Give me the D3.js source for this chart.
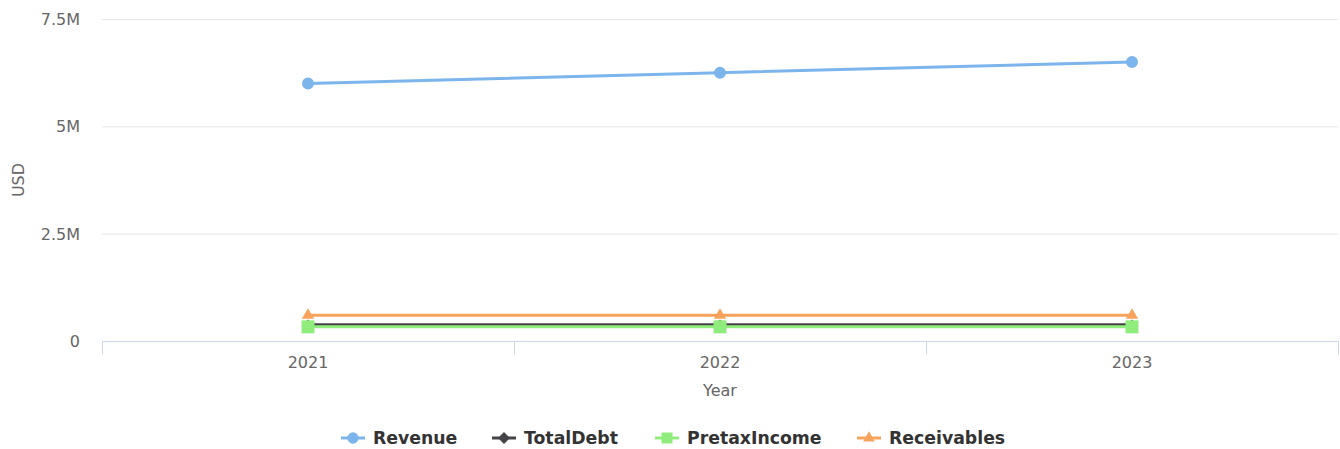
<!DOCTYPE html>
<html lang="en">
<head>
  <meta charset="UTF-8">
  <title>Financials by Year</title>
  <script src="https://d3js.org/d3.v7.min.js"></script>
  <style>
    body {
      margin: 0;
      background: #fff;
      font-family: "DejaVu Sans", sans-serif;
    }
    .tick-label { fill: #666; font-size: 16px; }
    .axis-title { fill: #666; font-size: 16px; }
    .legend-text { fill: #333; font-size: 17.3px; font-weight: bold; }
  </style>
</head>
<body>
  <svg id="chart" width="1340" height="449"></svg>
  <script>
    const years = ["2021", "2022", "2023"];
    const revenue = [6.0e6, 6.25e6, 6.5e6];
    const totalDebt = [0.38e6, 0.38e6, 0.38e6];
    const pretaxIncome = [0.33e6, 0.33e6, 0.33e6];
    const receivables = [0.6e6, 0.6e6, 0.6e6];
    const yTicks = [0, 2.5e6, 5e6, 7.5e6];
    const yTickLabels = ["0", "2.5M", "5M", "7.5M"];

    const series = [
      { name: "Revenue", values: revenue, color: "#7cb5ec", symbol: d3.symbolCircle, size: 113, legendSize: 100 },
      { name: "TotalDebt", values: totalDebt, color: "#434348", symbol: d3.symbolDiamond2, size: 70, legendSize: 90 },
      { name: "PretaxIncome", values: pretaxIncome, color: "#90ed7d", symbol: d3.symbolSquare, size: 169, legendSize: 121 },
      { name: "Receivables", values: receivables, color: "#f7a35c", symbol: d3.symbolTriangle, size: 65, legendSize: 60 }
    ];

    const margin = { left: 102, right: 2, top: 19, bottom: 108 };
    const width = 1340, height = 449;
    const svg = d3.select("#chart");

    const x = d3.scaleBand().domain(years).range([margin.left, width - margin.right]);
    const y = d3.scaleLinear().domain([0, 7.5e6]).range([height - margin.bottom, margin.top]);

    // grid lines
    svg.append("g")
      .selectAll("line")
      .data(yTicks.slice(1))
      .join("line")
      .attr("x1", margin.left).attr("x2", width - margin.right)
      .attr("y1", d => y(d) + 0.5).attr("y2", d => y(d) + 0.5)
      .attr("stroke", "#e6e6e6");

    // y labels
    svg.append("g")
      .selectAll("text")
      .data(yTicks)
      .join("text")
      .attr("class", "tick-label")
      .attr("x", 80)
      .attr("y", d => y(d) + 6)
      .attr("text-anchor", "end")
      .text((d, i) => yTickLabels[i]);

    svg.append("text")
      .attr("class", "axis-title")
      .attr("transform", `translate(24,${(y(0) + y(7.5e6)) / 2}) rotate(-90)`)
      .attr("text-anchor", "middle")
      .text("USD");

    // x axis
    const x0 = y(0) + 0.5;
    svg.append("line")
      .attr("x1", margin.left).attr("x2", width - margin.right)
      .attr("y1", x0).attr("y2", x0)
      .attr("stroke", "#ccd6eb");

    const bounds = years.map(d => x(d)).concat([x(years[years.length - 1]) + x.bandwidth()]);
    svg.append("g")
      .selectAll("line")
      .data(bounds)
      .join("line")
      .attr("x1", d => Math.round(d) + 0.5).attr("x2", d => Math.round(d) + 0.5)
      .attr("y1", x0).attr("y2", x0 + 13)
      .attr("stroke", "#ccd6eb");

    svg.append("g")
      .selectAll("text")
      .data(years)
      .join("text")
      .attr("class", "tick-label")
      .attr("x", d => x(d) + x.bandwidth() / 2)
      .attr("y", 368)
      .attr("text-anchor", "middle")
      .text(d => d);

    svg.append("text")
      .attr("class", "axis-title")
      .attr("x", (margin.left + width - margin.right) / 2)
      .attr("y", 396)
      .attr("text-anchor", "middle")
      .text("Year");

    // series
    const line = d3.line()
      .x((d, i) => x(years[i]) + x.bandwidth() / 2)
      .y(d => y(d));

    series.forEach(s => {
      const g = svg.append("g");
      g.append("path")
        .attr("d", line(s.values))
        .attr("fill", "none")
        .attr("stroke", s.color)
        .attr("stroke-width", 3);
      g.selectAll("path.marker")
        .data(s.values)
        .join("path")
        .attr("class", "marker")
        .attr("transform", (d, i) => `translate(${x(years[i]) + x.bandwidth() / 2},${y(d)})`)
        .attr("d", d3.symbol(s.symbol, s.size))
        .attr("fill", s.color);
    });

    // legend
    const legendX = [341, 492, 655, 857];
    const legend = svg.append("g");
    series.forEach((s, i) => {
      const lg = legend.append("g").attr("transform", `translate(${legendX[i]},438)`);
      lg.append("line")
        .attr("x1", 0).attr("x2", 24)
        .attr("stroke", s.color).attr("stroke-width", 3);
      lg.append("path")
        .attr("transform", "translate(12,0)")
        .attr("d", d3.symbol(s.symbol, s.legendSize))
        .attr("fill", s.color);
      lg.append("text")
        .attr("class", "legend-text")
        .attr("x", 32)
        .attr("y", 6)
        .text(s.name);
    });
  </script>
</body>
</html>
